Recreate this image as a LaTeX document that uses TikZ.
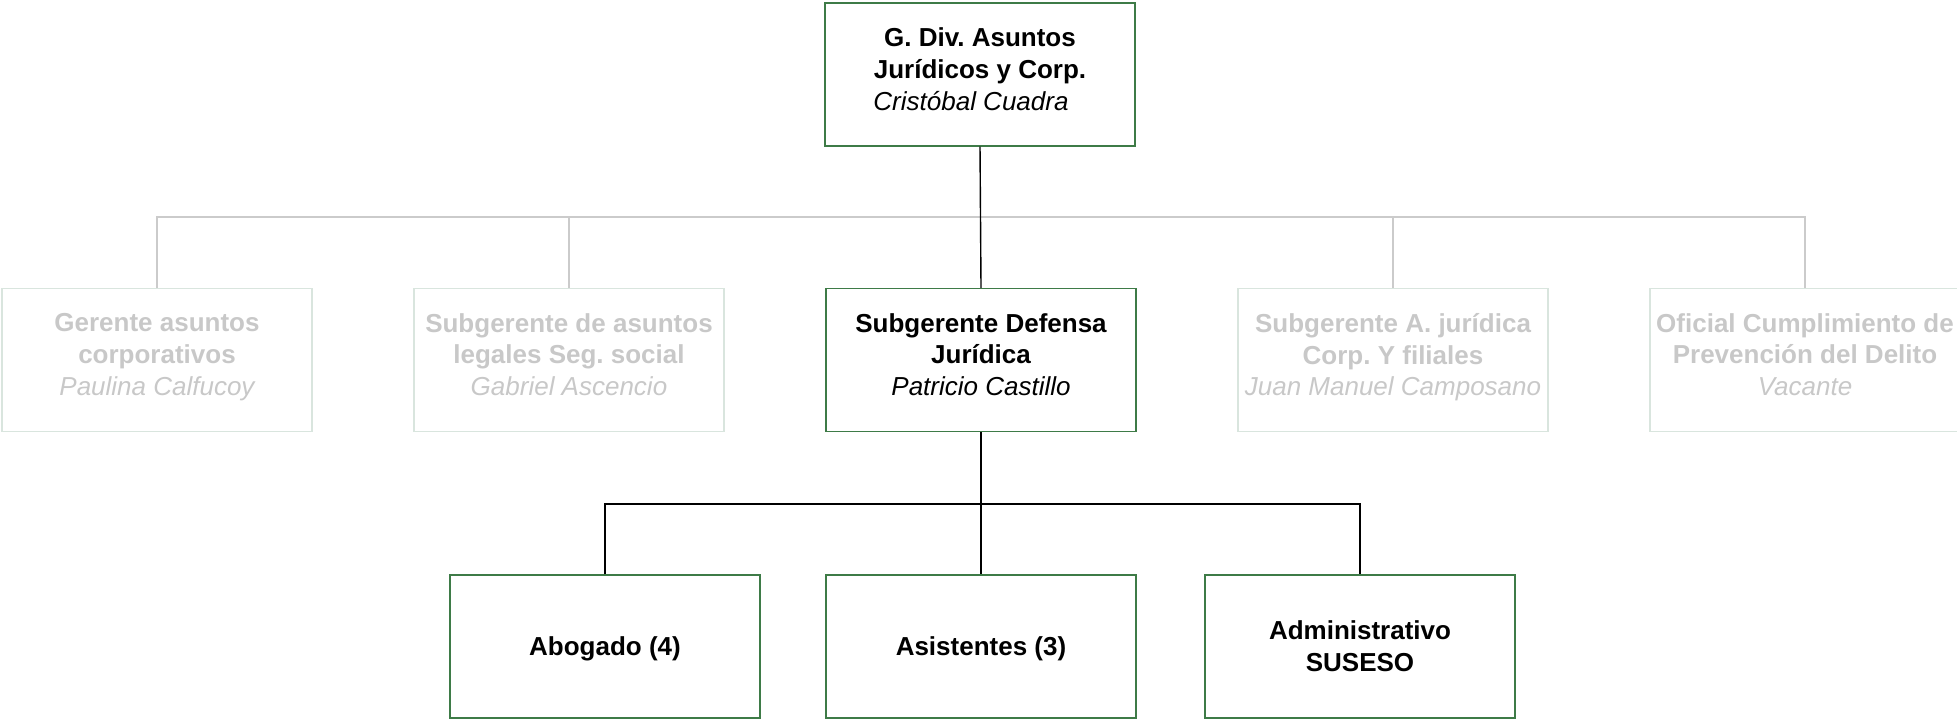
\documentclass[tikz,border=0pt]{standalone}
\usepackage{fontspec}
\setmainfont{Liberation Sans}
\frenchspacing
\definecolor{boxgreen}{HTML}{3E7B47}
\definecolor{fadeborder}{HTML}{D9E5DE}
\definecolor{fadetext}{HTML}{C8C8C8}
\definecolor{fadeline}{HTML}{CBCBCB}
\begin{document}
\begin{tikzpicture}[x=0.5pt,y=-0.5pt,
    unit/.style={draw=boxgreen,line width=0.6pt,minimum width=155pt,minimum height=71.5pt,
        inner sep=0pt,align=center,font=\fontsize{13}{15.9}\selectfont\bfseries},
    upper/.style={unit,text depth=5.5pt},
    lower/.style={unit,text height=12pt},
    faded/.style={upper,draw=fadeborder,text=fadetext},
    link/.style={line width=0.7pt},
    fadelink/.style={draw=fadeline,line width=0.8pt}]
    \useasboundingbox (0,0) rectangle (1957,719);
    \node[upper] (gdiv) at (980,74.5)
        {G. Div. Asuntos\\Jurídicos y Corp.\\\mdseries\itshape Cristóbal Cuadra\kern9pt};
    % second level
    \foreach \x/\name/\first/\second/\who in {157/gac/Gerente asuntos/corporativos/Paulina Calfucoy,
                                     569/slg/Subgerente de asuntos/legales Seg. social/Gabriel Ascencio,
                                     1393/saj/Subgerente A. jurídica/Corp. Y filiales/Juan Manuel Camposano,
                                     1805/ocp/Oficial Cumplimiento de/Prevención del Delito/Vacante}
        \node[faded] (\name) at (\x,360) {\first\\\second\\\mdseries\itshape\who};
    \node[upper] (sdj) at (981,360)
        {Subgerente Defensa\\Jurídica\\\mdseries\itshape Patricio Castillo};
    % third level
    \foreach \x/\name/\label in {605/abo/{Abogado (4)},981/asi/{Asistentes (3)}}
        \node[lower] (\name) at (\x,646.5) {\label};
    \node[unit] (adm) at (1360,646.5) {Administrativo\\SUSESO};
    \coordinate (bus) at (981,217);
    \coordinate (hub) at (981,504);
    \draw[fadelink] (gac.north) |- (bus) -| (ocp.north);
    \draw[fadelink] (slg.north) |- (bus);
    \draw[fadelink] (saj.north) |- (bus);
    \draw[link] (gdiv.south) -- (sdj.north);
    \draw[link] (sdj.south) -- (asi.north);
    \draw[link] (abo.north) |- (hub) -| (adm.north);
\end{tikzpicture}
\end{document}
